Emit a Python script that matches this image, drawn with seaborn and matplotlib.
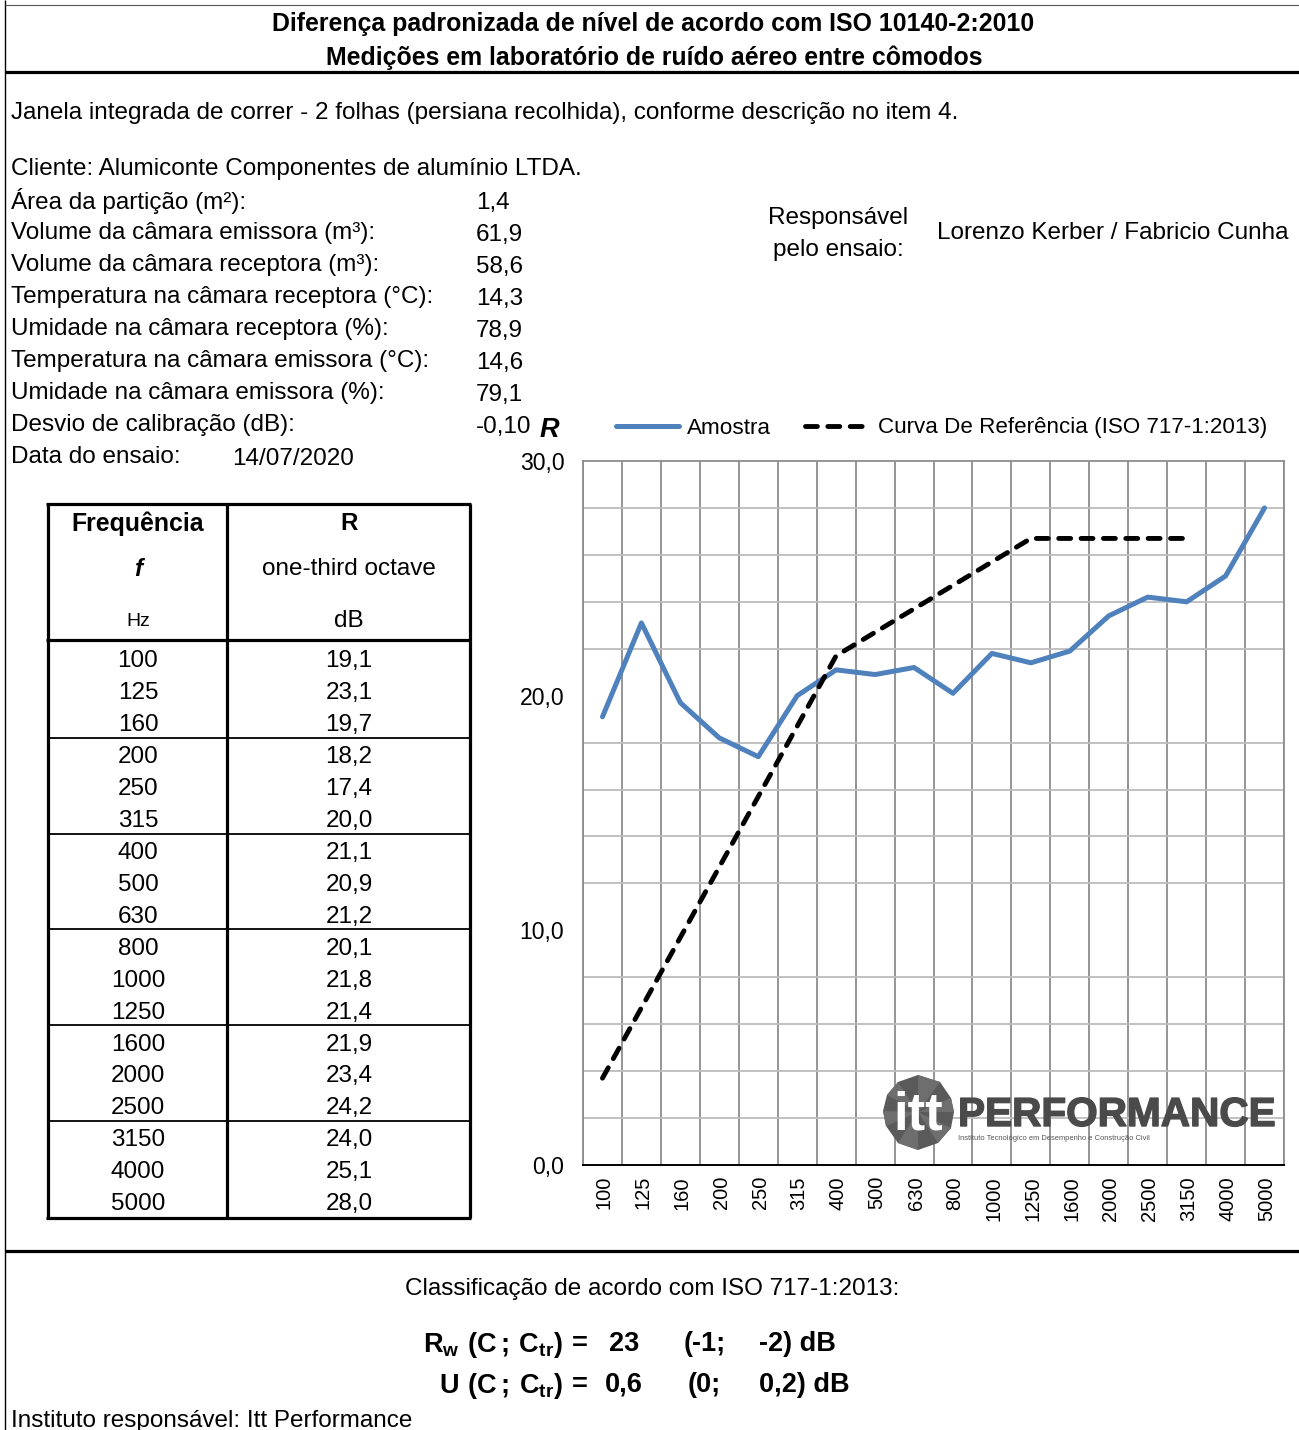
import pandas as pd
import matplotlib
matplotlib.use('Agg')
import matplotlib.pyplot as plt
import matplotlib.patheffects as pe
from matplotlib.patches import Polygon
from matplotlib.transforms import ScaledTranslation
import seaborn as sns

# Data
freqs = ['100', '125', '160', '200', '250', '315', '400', '500', '630', '800',
         '1000', '1250', '1600', '2000', '2500', '3150', '4000', '5000']
amostra = [19.1, 23.1, 19.7, 18.2, 17.4, 20.0, 21.1, 20.9, 21.2, 20.1,
           21.8, 21.4, 21.9, 23.4, 24.2, 24.0, 25.1, 28.0]
referencia = [3.7, 6.7, 9.7, 12.7, 15.7, 18.7, 21.7, 22.7, 23.7, 24.7,
              25.7, 26.7, 26.7, 26.7, 26.7, 26.7, None, None]
info_labels = ['Área da partição (m²):', 'Volume da câmara emissora (m³):',
               'Volume da câmara receptora (m³):', 'Temperatura na câmara receptora (°C):',
               'Umidade na câmara receptora (%):', 'Temperatura na câmara emissora (°C):',
               'Umidade na câmara emissora (%):', 'Desvio de calibração (dB):']
info_values = ['1,4', '61,9', '58,6', '14,3', '78,9', '14,6', '79,1', '-0,10']

sns.set_theme(style='white')
plt.rcParams['font.family'] = ['Liberation Sans', 'DejaVu Sans']
plt.rcParams['mathtext.fontset'] = 'custom'
plt.rcParams['mathtext.bf'] = 'Liberation Sans:bold'
plt.rcParams['mathtext.rm'] = 'Liberation Sans'

W, H = 1299, 1430
BASE = 17.45
DASH = (0, (2.45, 2.15))
fig = plt.figure(figsize=(W / 100, H / 100), dpi=100, facecolor='white')

# chart area
x0, x1, y_top, y_bot = 583, 1284, 461, 1165
ax = fig.add_axes([x0 / W, 1 - y_bot / H, (x1 - x0) / W, (y_bot - y_top) / H])
df = pd.DataFrame({'f': freqs, 'Amostra': amostra, 'Ref': referencia})
df['Ref'] = pd.to_numeric(df['Ref'])
sns.lineplot(data=df, x='f', y='Amostra', ax=ax, color='#4f81bd', lw=3.6, sort=False, zorder=4)
sns.lineplot(data=df, x='f', y='Ref', ax=ax, color='black', lw=3.5, sort=False, zorder=5,
             linestyle=DASH, dash_capstyle='round')
ax.set_xlim(-0.5, 17.5)
ax.set_ylim(0, 30)
ax.set_xlabel('')
ax.set_ylabel('')
ax.set_xticks([i + 0.5 for i in range(-1, 18)], minor=True)
ax.set_yticks(range(0, 31, 2), minor=True)
ax.set_yticks([0, 10, 20, 30])
ax.set_yticklabels(['0,0', '10,0', '20,0', '30,0'], fontsize=16.6, color='black')
ax.set_xticks(range(18))
ax.set_xticklabels(freqs, rotation=90, fontsize=14.5, color='black')
ax.tick_params(axis='both', which='both', length=0)
ax.tick_params(axis='y', pad=13.5)
ax.tick_params(axis='x', pad=8)
shift = ScaledTranslation(2 / 100, 0, fig.dpi_scale_trans)
for lab in ax.get_xticklabels():
    lab.set_transform(lab.get_transform() + shift)
ax.grid(False)
ax.grid(True, which='minor', axis='x', color='#8c8c8c', lw=1.3)
ax.grid(True, which='minor', axis='y', color='#bcbcbc', lw=1.3)
ax.set_axisbelow(True)
for s in ['top', 'left', 'right']:
    ax.spines[s].set_color('#8c8c8c')
    ax.spines[s].set_linewidth(1.3)
ax.spines['bottom'].set_color('black')
ax.spines['bottom'].set_linewidth(1.4)

# overlay in pixel coordinates for the sheet content
ov = fig.add_axes([0, 0, 1, 1], facecolor='none')
ov.set_xlim(0, W)
ov.set_ylim(H, 0)
ov.axis('off')


def txt(x, y, s, size=BASE, ha='left', weight='normal', **kw):
    ov.text(x, y + 4, s, fontsize=size, ha=ha, va='center', fontweight=weight, color=kw.pop('color', 'black'), **kw)


def hline(y, a, b, lw=1.0, color='black'):
    ov.plot([a, b], [y, y], color=color, lw=lw, solid_capstyle='butt')


def vline(x, a, b, lw=1.0, color='black'):
    ov.plot([x, x], [a, b], color=color, lw=lw, solid_capstyle='butt')


# sheet borders
vline(5.5, 0, H, lw=1.0)
hline(5, 5, W, lw=0.8, color='#555555')
hline(72, 5, W, lw=2.3)
hline(1250.5, 5, W, lw=2.3)

txt(653, 20, 'Diferença padronizada de nível de acordo com ISO 10140-2:2010', size=17.9, ha='center', weight='bold')
txt(654, 53.5, 'Medições em laboratório de ruído aéreo entre cômodos', size=17.9, ha='center', weight='bold')
txt(11, 109, 'Janela integrada de correr - 2 folhas (persiana recolhida), conforme descrição no item 4.')
txt(11, 165, 'Cliente: Alumiconte Componentes de alumínio LTDA.')

for i, (lab, val) in enumerate(zip(info_labels, info_values)):
    txt(11, 197 + i * 32, lab)
    txt(476, 199 + i * 32, val)
txt(11, 453, 'Data do ensaio:')
txt(232, 455, '14/07/2020')

txt(838, 214, 'Responsável', ha='center')
txt(838, 246, 'pelo ensaio:', ha='center')
txt(937, 229, 'Lorenzo Kerber / Fabricio Cunha')

# legend row
txt(540, 426, 'R', size=19.5, weight='bold', style='italic')
ov.plot([616, 679], [426, 426], color='#4f81bd', lw=3.6, solid_capstyle='round')
txt(687, 424, 'Amostra', size=16.2)
ov.plot([805.5, 864], [426, 426], color='black', lw=3.5, linestyle=DASH, dash_capstyle='round')
txt(878, 424, 'Curva De Referência (ISO 717-1:2013)', size=16.1)

# table
tx0, tx1, tx2 = 48, 227, 470
ty0, ty1, ty2 = 504, 640, 1218
for y in (ty0, ty1, ty2):
    hline(y, tx0 - 1.5, tx2 + 1.5, lw=2.3)
for x in (tx0, tx1, tx2):
    vline(x, ty0, ty2, lw=2.3)
for y in (738, 834, 929, 1025, 1121):
    hline(y, tx0, tx2, lw=1.3)

cx1, cx2 = 138, 349
txt(cx1, 520, 'Frequência', ha='center', weight='bold', size=17.9)
txt(cx2, 520, 'R', ha='center', weight='bold')
txt(cx1, 565, 'f', ha='center', weight='bold', style='italic')
txt(cx2, 565, 'one-third octave', ha='center')
txt(cx1, 617, 'Hz', ha='center', size=14)
txt(cx2, 617, 'dB', ha='center')
row_y = [657, 689, 721, 753, 785, 817, 849, 881, 913, 945, 977, 1009, 1041, 1072, 1104, 1136, 1168, 1200]
for y, f, v in zip(row_y, freqs, amostra):
    txt(cx1, y, f, ha='center')
    txt(cx2, y, f'{v:.1f}'.replace('.', ','), ha='center')

# logo
logo = [(918, 1075), (940, 1082), (951, 1098), (954, 1112), (951, 1128), (938, 1143),
        (918, 1150), (898, 1143), (886, 1126), (883, 1111), (887, 1095), (898, 1082)]
ov.add_patch(Polygon(logo, closed=True, fc='#5a5a5a', ec='none', zorder=6))
for i in range(0, len(logo), 2):
    ov.add_patch(Polygon([(918, 1112), logo[i], logo[(i + 1) % len(logo)]], closed=True,
                         fc='#6e6e6e', ec='none', zorder=6))
ov.text(918, 1115, 'itt', fontsize=38, fontweight='bold', color='white', ha='center', va='center', zorder=7)
ov.text(958, 1115, 'PERFORMANCE', fontsize=29.2, fontweight='bold', color='#4a4a4a', ha='left', va='center', zorder=7,
        path_effects=[pe.withStroke(linewidth=1.0, foreground='#4a4a4a')])
ov.text(958, 1138, 'Instituto Tecnológico em Desempenho e Construção Civil', fontsize=5.4, color='#555555',
        ha='left', va='center', zorder=7)

# classification
txt(652, 1285, 'Classificação de acordo com ISO 717-1:2013:', size=17.5, ha='center')
s = 19.5
txt(563, 1341, r'$\mathbf{R_w\ (C\,{;}\,C_{tr})}$', size=s, ha='right', weight='bold')
txt(588, 1340, '=', size=s, ha='right', weight='bold')
txt(624, 1340, '23', size=s, ha='center', weight='bold')
txt(705, 1340, '(-1;', size=s, ha='center', weight='bold')
txt(797, 1340, '-2) dB', size=s, ha='center', weight='bold')
txt(563, 1382, r'$\mathbf{U\ (C\,{;}\,C_{tr})}$', size=s, ha='right', weight='bold')
txt(588, 1381, '=', size=s, ha='right', weight='bold')
txt(624, 1381, '0,6', size=s, ha='center', weight='bold')
txt(704, 1381, '(0;', size=s, ha='center', weight='bold')
txt(804, 1381, '0,2) dB', size=s, ha='center', weight='bold')
txt(11, 1417, 'Instituto responsável: Itt Performance')

fig.savefig('out.png', dpi=100)
